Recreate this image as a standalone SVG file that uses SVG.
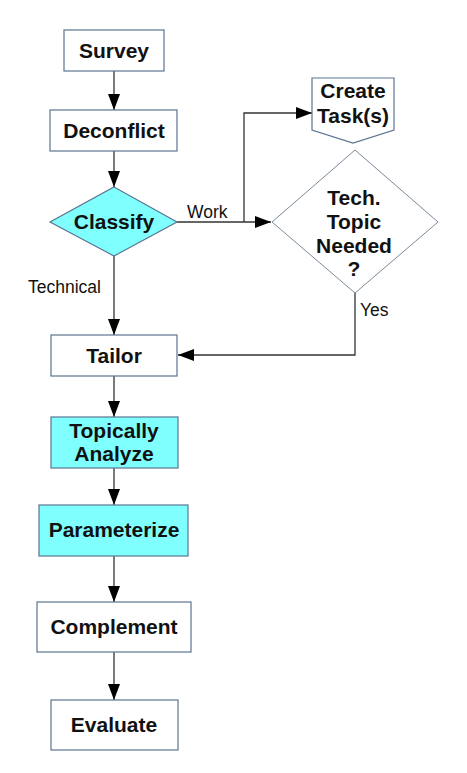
<svg xmlns="http://www.w3.org/2000/svg" width="467" height="773" viewBox="0 0 467 773">
<defs>
<marker id="arr" markerUnits="userSpaceOnUse" markerWidth="16" markerHeight="12" refX="16" refY="6" orient="auto">
<path d="M0,0 L16,6 L0,12 z" fill="#000"/>
</marker>
<style>
.box{fill:#fff;stroke:#5b7591;stroke-width:1.2}
.cy{fill:#80ffff;stroke:#5b7591;stroke-width:1.2}
.dia{fill:#fff;stroke:#7a8a9a;stroke-width:1}
.t{font-family:"Liberation Sans",Arial,sans-serif;font-weight:bold;font-size:21px;fill:#111;text-anchor:middle}
.l{font-family:"Liberation Sans",Arial,sans-serif;font-size:17.5px;fill:#111}
.c{fill:none;stroke:#333;stroke-width:1.3}
</style>
</defs>
<rect width="467" height="773" fill="#fff"/>
<g id="connectors">
<path class="c" d="M114,71 V110" marker-end="url(#arr)"/>
<path class="c" d="M114,151 V187" marker-end="url(#arr)"/>
<path class="c" d="M177,222 H271" marker-end="url(#arr)"/>
<path class="c" d="M244,222 V113 H312" marker-end="url(#arr)"/>
<path class="c" d="M114,256 V335" marker-end="url(#arr)"/>
<path class="c" d="M355,293 V355 H178" marker-end="url(#arr)"/>
<path class="c" d="M114,376 V417" marker-end="url(#arr)"/>
<path class="c" d="M114,468 V505" marker-end="url(#arr)"/>
<path class="c" d="M114,556 V602" marker-end="url(#arr)"/>
<path class="c" d="M114,652 V700" marker-end="url(#arr)"/>
<text class="l" x="187" y="218">Work</text>
<text class="l" x="28" y="293">Technical</text>
<text class="l" x="360" y="316">Yes</text>
</g>
<g id="survey">
<rect class="box" x="64" y="30" width="100" height="41"/>
<text class="t" x="114" y="58">Survey</text>
</g>
<g id="deconflict">
<rect class="box" x="50" y="110" width="127" height="41"/>
<text class="t" x="114" y="138">Deconflict</text>
</g>
<g id="classify">
<polygon class="cy" points="114,187 177,222 114,256 50,222"/>
<text class="t" x="114" y="229">Classify</text>
</g>
<g id="create-tasks">
<polygon class="box" points="312,78 394,78 394,130 353,143 312,130"/>
<text class="t" x="353" y="98">Create</text>
<text class="t" x="353" y="123">Task(s)</text>
</g>
<g id="tech-topic-needed">
<polygon class="dia" points="355,150 438,222 355,293 272,222"/>
<text class="t" x="354" y="205">Tech.</text>
<text class="t" x="354" y="229">Topic</text>
<text class="t" x="354" y="253">Needed</text>
<text class="t" x="354" y="276">?</text>
</g>
<g id="tailor">
<rect class="box" x="51" y="335" width="126" height="41"/>
<text class="t" x="114" y="363">Tailor</text>
</g>
<g id="topically-analyze">
<rect class="cy" x="51" y="417" width="127" height="51"/>
<text class="t" x="114" y="438">Topically</text>
<text class="t" x="114" y="461">Analyze</text>
</g>
<g id="parameterize">
<rect class="cy" x="39" y="505" width="149" height="51"/>
<text class="t" x="114" y="537">Parameterize</text>
</g>
<g id="complement">
<rect class="box" x="37" y="602" width="154" height="50"/>
<text class="t" x="114" y="634">Complement</text>
</g>
<g id="evaluate">
<rect class="box" x="51" y="700" width="127" height="50"/>
<text class="t" x="114" y="732">Evaluate</text>
</g>
</svg>
